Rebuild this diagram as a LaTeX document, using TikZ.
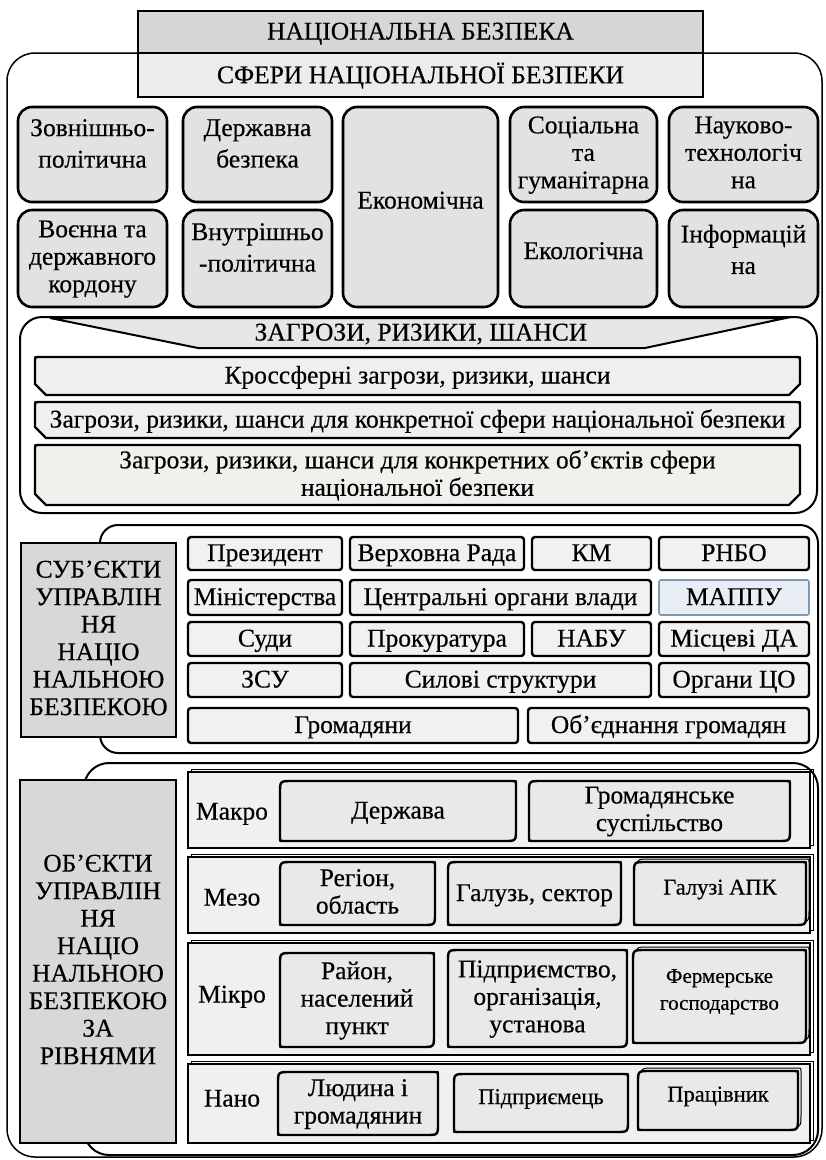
\documentclass[tikz,border=0pt]{standalone}
\usepackage{fontspec}
\setmainfont{Liberation Serif}[FakeBold=0.4]
\definecolor{tgA}{HTML}{D6D6D6}
\definecolor{tgB}{HTML}{ECECEC}
\definecolor{sphg}{HTML}{E2E2E2}
\definecolor{lblg}{HTML}{D8D8D8}
\definecolor{gridg}{HTML}{F3F1EF}
\definecolor{rowg}{HTML}{F0F0F0}
\definecolor{innerg}{HTML}{E9E9E9}
\definecolor{snipg}{HTML}{EFEFEF}
\definecolor{warmg}{HTML}{F2F0ED}
\definecolor{trapg}{HTML}{E6E6E6}
\definecolor{mapfill}{HTML}{E8EEF4}
\definecolor{mapdraw}{HTML}{7F98B2}
\newcommand\bx[8][]{%
  \node[#2, minimum width={#6pt-#4pt}, minimum height={#7pt-#5pt}] (#3) at ({(#4+#6)/2},{(#5+#7)/2}) {};
  \node[txt,#1] (#3-t) at (#3.center) {#8};}
\newcommand\rd[8][]{%
  \draw[#2] (#4,#5+12) .. controls (#4,#5) .. (#4+12,#5) -- (#6-3,#5) .. controls (#6,#5) .. (#6,#5+3)
    -- (#6,#7-12) .. controls (#6,#7) .. (#6-12,#7) -- (#4+3,#7) .. controls (#4,#7) .. (#4,#7-3) -- cycle;
  \node[txt,#1] (#3) at ({(#4+#6)/2},{(#5+#7)/2}) {#8};}
\newcommand\rdsh[4]{%
  \draw[line width=1pt] (#1+3,#2-3+12) .. controls (#1+3,#2-3) .. (#1+15,#2-3) -- (#3,#2-3) .. controls (#3+3,#2-3) .. (#3+3,#2)
    -- (#3+3,#4-15) .. controls (#3+3,#4-3) .. (#3-9,#4-3);}
\newcommand\sn[8][]{%
  \draw[#2] (#4,#5+3) .. controls (#4,#5) .. (#4+3,#5) -- (#6-3,#5) .. controls (#6,#5) .. (#6,#5+3)
    -- (#6,#7-11) -- (#6-11,#7) -- (#4+11,#7) -- (#4,#7-11) -- cycle;
  \node[txt,#1] (#3) at ({(#4+#6)/2},{(#5+#7)/2}) {#8};}
\begin{document}
\begin{tikzpicture}[x=1pt,y=-1pt,
  txt/.style={font=\fontsize{25.5}{27.5}\selectfont, align=center, inner sep=0pt, text=black,
    yshift=-2pt, execute at begin node=\strut, execute at end node=\strut},
  sml/.style={font=\fontsize{22.5}{25}\selectfont},
  smlr/.style={font=\fontsize{21}{27}\selectfont},
  base/.style={inner sep=0pt, outer sep=0pt},
  bigbox/.style={base, draw, line width=1.5pt, rounded corners=28pt},
  sect/.style={base, draw, line width=2pt},
  ttl/.style={base, draw, line width=2.4pt},
  sph/.style={base, draw, line width=2.6pt, rounded corners=14pt, fill=sphg},
  trap/.style={draw, line width=2pt, fill=trapg},
  snip/.style={draw, line width=2.4pt, fill=snipg},
  lbl/.style={base, draw, line width=2.6pt, fill=lblg},
  gbox/.style={base, draw, line width=2.4pt, rounded corners=3pt, fill=gridg},
  mbox/.style={base, draw=mapdraw, line width=1.6pt, rounded corners=2pt, fill=mapfill},
  lvl/.style={base, draw, line width=2.4pt, fill=rowg},
  ibox/.style={draw, line width=2.4pt, fill=innerg}]
\useasboundingbox (0,0) rectangle (826,1160);
% outer frame
\node[bigbox, minimum width=815pt, minimum height=1104pt] (outer) at (414.5,605) {};
% titles
\bx{ttl, fill=tgA}{nb}{138}{11}{703}{53}{НАЦІОНАЛЬНА БЕЗПЕКА}
\bx{ttl, fill=tgB}{sf}{138}{53}{703}{97}{СФЕРИ НАЦІОНАЛЬНОЇ БЕЗПЕКИ}
% spheres
\bx[yshift=9pt]{sph}{s1}{18}{107}{167}{202}{Зовнішньо-\\[4pt]політична}
\bx[yshift=9pt]{sph}{s2}{183}{107}{332}{202}{Державна\\[4pt]безпека}
\bx[yshift=6pt]{sph}{s3}{343}{107}{498}{307}{Економічна}
\bx{sph}{s4}{510}{107}{657}{202}{Соціальна\\та\\гуманітарна}
\bx{sph}{s5}{669}{107}{818}{202}{Науково-\\технологіч\\на}
\bx{sph}{s6}{18}{210}{167}{307}{Воєнна та\\державного\\кордону}
\bx[yshift=9pt]{sph}{s7}{183}{210}{332}{307}{Внутрішньо\\[4pt]-політична}
\bx[yshift=7pt]{sph}{s8}{510}{210}{657}{307}{Екологічна}
\bx[yshift=7pt]{sph}{s9}{669}{210}{818}{307}{Інформацій\\[4pt]на}
% threats
\node[sect, rounded corners=22pt, minimum width=797pt, minimum height=196pt] (thr) at (418.5,415) {};
\draw[trap] (50,318) -- (786,318) -- (645,348) -- (198,348) -- cycle;
\node[txt] (thr-t) at (421,333) {ЗАГРОЗИ, РИЗИКИ, ШАНСИ};
\sn{snip}{k1}{35}{357}{800}{395}{Кроссферні загрози, ризики, шанси}
\sn{snip}{k2}{35}{402}{800}{438}{Загрози, ризики, шанси для конкретної сфери національної безпеки}
\sn{snip, fill=warmg}{k3}{35}{445}{800}{505}{Загрози, ризики, шанси для конкретних об’єктів сфери\\національної безпеки}
% subjects
\node[sect, rounded corners=18pt, minimum width=718pt, minimum height=228pt] (subj) at (459,639) {};
\bx{lbl}{subjl}{21}{543}{176}{737}{СУБ’ЄКТИ\\УПРАВЛІН\\НЯ\\НАЦІО\\НАЛЬНОЮ\\БЕЗПЕКОЮ}
\bx{gbox}{g11}{188}{537}{342}{570}{Президент}
\bx{gbox}{g12}{350}{537}{524}{570}{Верховна Рада}
\bx{gbox}{g13}{532}{537}{651}{570}{КМ}
\bx{gbox}{g14}{659}{537}{809}{570}{РНБО}
\bx{gbox}{g21}{188}{580}{342}{615}{Міністерства}
\bx{gbox}{g22}{350}{580}{651}{615}{Центральні органи влади}
\bx{mbox}{g23}{659}{580}{809}{615}{МАППУ}
\bx{gbox}{g31}{188}{622}{342}{656}{Суди}
\bx{gbox}{g32}{350}{622}{524}{656}{Прокуратура}
\bx{gbox}{g33}{532}{622}{651}{656}{НАБУ}
\bx{gbox}{g34}{659}{622}{809}{656}{Місцеві ДА}
\bx{gbox}{g41}{188}{663}{342}{697}{ЗСУ}
\bx{gbox}{g42}{350}{663}{651}{697}{Силові структури}
\bx{gbox}{g43}{659}{663}{809}{697}{Органи ЦО}
\bx{gbox}{g51}{188}{708}{518}{743}{Громадяни}
\bx{gbox}{g52}{528}{708}{809}{743}{Об’єднання громадян}
% objects
\node[sect, rounded corners=25pt, minimum width=734pt, minimum height=392pt] (obj) at (451,959) {};
\bx{lbl}{objl}{20}{780}{176}{1143}{ОБ’ЄКТИ\\УПРАВЛІН\\НЯ\\НАЦІО\\НАЛЬНОЮ\\БЕЗПЕКОЮ\\ЗА\\РІВНЯМИ}
\draw[line width=1pt] (191,769) rectangle (813,845);
\draw[line width=1pt] (191,854) rectangle (813,930);
\draw[line width=1pt] (191,940) rectangle (813,1052);
\draw[line width=1pt] (191,1061) rectangle (813,1140);
\bx{lvl}{lmacro}{188}{772}{810}{848}{}
\bx{lvl}{lmezo}{188}{857}{810}{933}{}
\bx{lvl}{lmicro}{188}{943}{810}{1055}{}
\bx{lvl}{lnano}{188}{1064}{810}{1143}{}
\node[txt] (tmacro) at (232,812) {Макро};
\node[txt] (tmezo) at (232,898) {Мезо};
\node[txt] (tmicro) at (232,995) {Мікро};
\node[txt] (tnano) at (232,1099) {Нано};
\rd{ibox}{derzh}{280}{781}{516}{841}{Держава}
\rd{ibox}{grom}{529}{781}{790}{841}{Громадянське\\суспільство}
\rd{ibox}{reg}{280}{862}{435}{925}{Регіон,\\область}
\rd{ibox}{gal}{448}{862}{621}{925}{Галузь, сектор}
\rdsh{634}{862}{806}{925}
\rd[sml,yshift=6pt]{ibox}{apk}{634}{862}{806}{925}{Галузі АПК}
\rd{ibox}{rai}{280}{953}{434}{1047}{Район,\\населений\\пункт}
\rd{ibox}{pidpr}{448}{950}{627}{1047}{Підприємство,\\організація,\\установа}
\rdsh{633}{950}{806}{1043}
\rd[smlr,yshift=5pt]{ibox}{ferm}{633}{950}{806}{1043}{Фермерське\\господарство}
\rd{ibox}{lud}{278}{1072}{438}{1135}{Людина і\\громадянин}
\rd[sml,yshift=6pt]{ibox}{pidm}{454}{1074}{628}{1132}{Підприємець}
\rdsh{638}{1071}{798}{1130}
\rd[sml,yshift=6pt]{ibox}{prac}{638}{1071}{798}{1130}{Працівник}
\end{tikzpicture}
\end{document}
